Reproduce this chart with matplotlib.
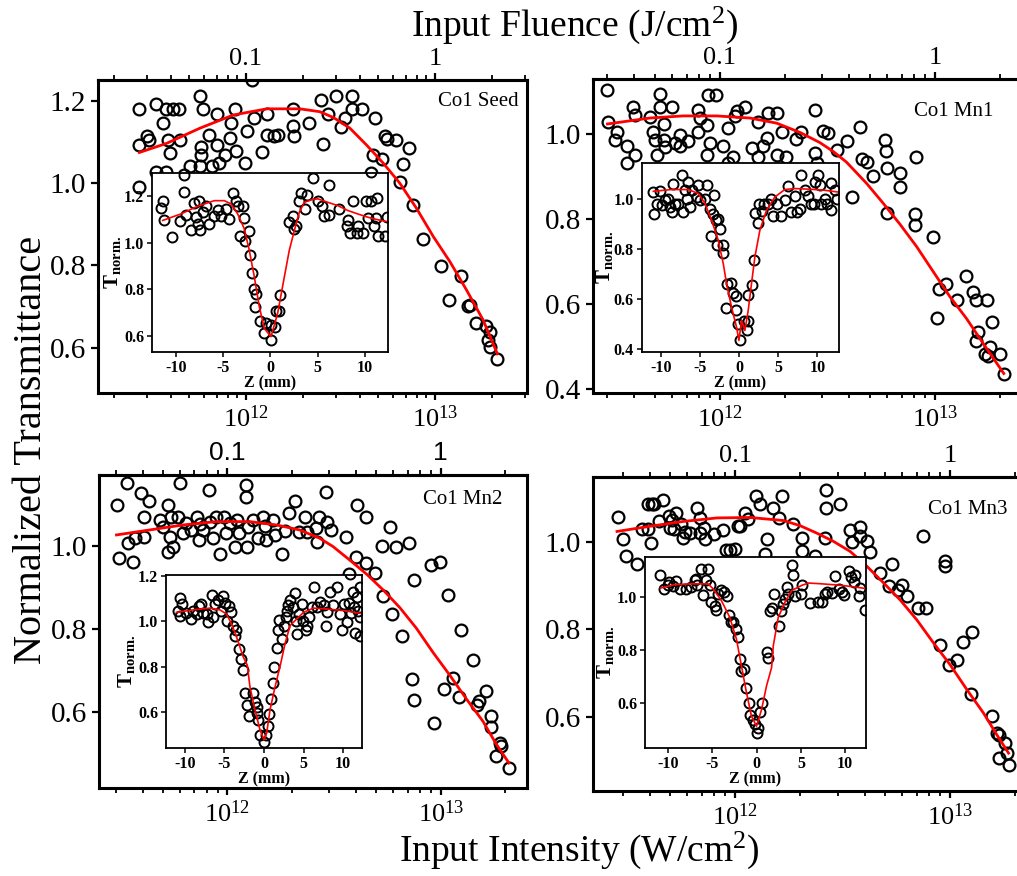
import numpy as np
import matplotlib
matplotlib.use('Agg')
import matplotlib.pyplot as plt
from matplotlib.ticker import LogLocator, NullFormatter

plt.rcParams['font.family'] = ['Liberation Serif', 'DejaVu Serif']
plt.rcParams['mathtext.fontset'] = 'custom'
plt.rcParams['mathtext.rm'] = 'Liberation Serif'
plt.rcParams['mathtext.bf'] = 'Liberation Serif:bold'
plt.rcParams['mathtext.it'] = 'Liberation Serif:italic'
plt.rcParams['axes.unicode_minus'] = False

# ---- data: intensity in units of 1e12 W/cm^2, normalized transmittance ----
seed_I = [0.273, 0.273, 0.273, 0.298, 0.307, 0.333, 0.333, 0.365, 0.380, 0.380, 0.388, 0.399,
          0.409, 0.444, 0.448, 0.472, 0.506, 0.571, 0.575, 0.582, 0.582, 0.594, 0.640, 0.658,
          0.700, 0.705, 0.720, 0.774, 0.823, 0.833, 0.875, 0.885, 0.99, 1.016, 1.072, 1.10,
          1.21, 1.29, 1.29, 1.40, 1.48, 1.78, 1.78, 1.80, 2.16, 2.51, 2.57, 2.73, 2.99, 3.17,
          3.34, 3.62, 3.62, 4.09, 4.57, 4.72, 4.82, 5.22, 5.44, 5.60, 6.22, 6.53, 6.80, 7.31,
          7.68, 8.67, 10.8, 11.9, 13.7, 15.0, 15.4, 16.5, 18.6, 19.1, 19.5, 19.5, 21.4]
seed_T = [1.179, 1.092, 0.989, 1.113, 1.104, 1.191, 1.026, 1.145, 1.179, 1.026, 1.104, 1.072,
          1.179, 1.179, 1.104, 1.019, 1.040, 1.212, 1.040, 1.088, 1.068, 1.179, 1.117, 1.040,
          1.092, 1.167, 1.048, 1.068, 1.108, 1.145, 1.179, 1.078, 1.048, 1.126, 1.250, 1.157,
          1.074, 1.167, 1.117, 1.114, 1.117, 1.179, 1.138, 1.114, 1.145, 1.202, 1.094, 1.167,
          1.210, 1.137, 1.157, 1.210, 1.179, 1.179, 1.023, 1.068, 1.157, 1.057, 1.114, 1.106,
          1.104, 1.003, 1.045, 1.086, 0.946, 0.865, 0.798, 0.717, 0.774, 0.701, 0.704, 0.659,
          0.652, 0.618, 0.639, 0.602, 0.572]
seed_fit_I = [0.273, 0.380, 0.571, 0.857, 1.29, 1.93, 2.46, 2.90, 3.55, 4.35, 5.33, 6.53,
              8.0, 9.8, 12.0, 14.7, 18.0, 21.4]
seed_fit_T = [1.074, 1.096, 1.133, 1.165, 1.180, 1.180, 1.173, 1.159, 1.133, 1.092, 1.048,
              0.999, 0.938, 0.870, 0.809, 0.740, 0.667, 0.585]

mn1_I = [0.300, 0.303, 0.325, 0.333, 0.368, 0.368, 0.395, 0.402, 0.402, 0.472, 0.490, 0.499,
         0.508, 0.526, 0.526, 0.551, 0.551, 0.555, 0.596, 0.618, 0.652, 0.652, 0.713, 0.793,
         0.807, 0.793, 0.867, 0.867, 0.883, 0.898, 0.958, 1.029, 1.093, 1.093, 1.153, 1.174,
         1.196, 1.307, 1.404, 1.508, 1.508, 1.59, 1.648, 1.678, 1.835, 1.835, 1.935, 2.04,
         2.27, 2.39, 2.77, 2.77, 2.82, 3.03, 3.19, 3.49, 3.88, 4.10, 4.48, 4.56, 4.81, 5.13,
         5.85, 5.92, 5.96, 5.96, 6.87, 6.87, 8.07, 8.07, 8.16, 9.75, 10.2, 10.4, 11.3, 12.6,
         14.0, 15.1, 15.6, 15.9, 15.6, 17.4, 18.4, 17.1, 17.7, 18.0, 20.1, 20.9]
mn1_T = [1.105, 1.028, 0.987, 1.004, 0.971, 0.933, 1.064, 1.046, 0.951, 1.040, 1.004, 0.987,
         0.951, 1.094, 1.065, 1.024, 0.987, 0.969, 1.065, 0.979, 0.998, 0.971, 0.983, 1.057,
         1.038, 1.004, 1.022, 0.951, 1.093, 0.980, 1.093, 0.971, 1.014, 0.932, 0.947, 1.042,
         1.054, 1.065, 0.967, 1.028, 0.947, 0.971, 0.992, 1.051, 1.051, 0.951, 1.004, 0.947,
         0.988, 1.006, 1.057, 0.955, 0.932, 1.008, 1.002, 0.963, 0.983, 0.853, 1.018, 0.941,
         0.935, 0.902, 0.987, 0.961, 0.920, 0.815, 0.908, 0.876, 0.813, 0.786, 0.946, 0.758,
         0.566, 0.636, 0.648, 0.610, 0.665, 0.628, 0.610, 0.534, 0.513, 0.610, 0.558, 0.481,
         0.477, 0.499, 0.481, 0.434]
mn1_fit_I = [0.300, 0.472, 0.675, 0.965, 1.379, 1.835, 2.36, 2.92, 3.37, 3.88, 4.81, 5.75,
             6.87, 8.22, 9.82, 11.7, 14.0, 16.8, 20.9]
mn1_fit_T = [1.024, 1.038, 1.043, 1.043, 1.038, 1.026, 1.004, 0.980, 0.959, 0.934, 0.884,
             0.837, 0.788, 0.735, 0.676, 0.618, 0.566, 0.506, 0.436]

mn2_I = [0.302, 0.310, 0.340, 0.342, 0.359, 0.368, 0.395, 0.405, 0.407, 0.428, 0.482, 0.499,
         0.527, 0.527, 0.537, 0.546, 0.556, 0.587, 0.602, 0.620, 0.642, 0.678, 0.721, 0.737,
         0.742, 0.769, 0.821, 0.826, 0.857, 0.888, 0.921, 0.961, 0.989, 1.025, 1.082, 1.11,
         1.134, 1.227, 1.227, 1.236, 1.25, 1.319, 1.393, 1.469, 1.496, 1.523, 1.637, 1.667,
         1.81, 1.857, 1.945, 2.07, 2.17, 2.30, 2.35, 2.59, 2.63, 2.69, 2.91, 2.94, 3.05, 3.61,
         3.72, 4.02, 4.05, 4.45, 4.45, 4.91, 5.33, 5.37, 5.81, 5.94, 6.20, 6.61, 7.11, 7.31,
         7.50, 7.47, 8.97, 9.27, 9.96, 10.4, 10.8, 11.4, 12.2, 12.5, 14.2, 14.8, 15.1, 16.4,
         17.3, 17.3, 18.2, 18.9, 19.1, 20.9]
mn2_T = [1.098, 0.970, 1.150, 1.006, 0.960, 1.018, 1.126, 1.022, 1.069, 1.108, 1.062, 1.045,
         1.098, 0.986, 1.022, 1.070, 0.996, 1.070, 1.150, 1.030, 1.054, 1.038, 1.070, 1.013,
         1.053, 1.038, 1.134, 1.058, 1.018, 1.070, 0.980, 1.070, 1.030, 1.054, 0.996, 1.062,
         1.030, 1.146, 1.117, 0.998, 1.046, 1.062, 1.018, 1.070, 1.048, 1.014, 1.062, 1.026,
         0.980, 1.036, 1.078, 1.108, 1.034, 1.070, 1.034, 1.042, 1.010, 1.070, 1.128, 1.056,
         1.038, 1.022, 0.933, 0.974, 1.098, 1.069, 0.958, 0.934, 1.000, 0.880, 1.045, 0.836,
         0.996, 0.784, 1.006, 0.680, 0.917, 0.630, 0.954, 0.573, 0.962, 0.656, 0.882, 0.682,
         0.637, 0.798, 0.726, 0.618, 0.626, 0.650, 0.590, 0.565, 0.494, 0.526, 0.518, 0.466]
mn2_fit_I = [0.302, 0.432, 0.620, 0.888, 1.273, 1.698, 2.18, 2.71, 3.13, 3.74, 4.49, 5.37,
             6.42, 7.69, 9.2, 11.0, 13.2, 15.8, 18.2, 20.9]
mn2_fit_T = [1.026, 1.038, 1.050, 1.058, 1.058, 1.050, 1.038, 1.018, 0.998, 0.966, 0.932,
             0.894, 0.852, 0.802, 0.744, 0.690, 0.632, 0.578, 0.524, 0.478]

mn3_I = [0.284, 0.300, 0.311, 0.349, 0.368, 0.395, 0.395, 0.410, 0.405, 0.420, 0.461, 0.440,
         0.490, 0.499, 0.508, 0.532, 0.517, 0.559, 0.571, 0.585, 0.618, 0.664, 0.683, 0.683,
         0.713, 0.725, 0.793, 0.877, 0.908, 0.948, 1.0, 1.036, 1.055, 1.113, 1.153, 1.252,
         1.307, 1.379, 1.413, 1.507, 1.591, 1.648, 1.855, 2.04, 2.04, 2.36, 2.56, 2.62, 2.65,
         2.65, 3.08, 3.43, 3.49, 3.79, 3.79, 4.10, 4.25, 4.73, 5.22, 5.35, 5.75, 5.96, 6.33,
         7.12, 7.51, 7.73, 8.98, 9.48, 9.48, 9.93, 10.8, 11.5, 12.5, 12.6, 15.6, 16.5, 16.8,
         16.9, 18.0, 18.4, 18.7]
mn3_T = [1.058, 1.008, 0.969, 0.951, 1.031, 1.031, 1.087, 1.087, 0.998, 1.087, 1.098, 1.048,
         1.060, 1.033, 1.052, 1.067, 1.031, 1.043, 1.010, 1.023, 1.021, 1.079, 1.056, 1.021,
         1.033, 1.008, 1.018, 1.029, 0.983, 0.983, 0.985, 1.037, 1.038, 1.067, 1.054, 1.107,
         1.087, 0.974, 1.008, 1.079, 1.056, 1.107, 1.041, 1.010, 0.979, 0.969, 0.951, 1.010,
         1.120, 1.079, 1.087, 1.029, 1.000, 1.035, 1.014, 1.002, 0.977, 0.930, 0.899, 0.951,
         0.890, 0.903, 0.876, 0.849, 1.014, 0.849, 0.764, 0.956, 0.945, 0.719, 0.730, 0.772,
         0.652, 0.795, 0.602, 0.562, 0.558, 0.504, 0.539, 0.516, 0.489]
mn3_fit_I = [0.282, 0.403, 0.575, 0.822, 1.174, 1.678, 2.01, 2.40, 2.87, 3.43, 4.10, 4.90,
             5.85, 7.0, 8.37, 10.0, 12.0, 14.3, 16.5, 18.7]
mn3_fit_T = [1.025, 1.037, 1.048, 1.056, 1.057, 1.050, 1.038, 1.021, 1.002, 0.979, 0.945,
             0.907, 0.868, 0.822, 0.769, 0.719, 0.661, 0.608, 0.558, 0.516]

# ---- inset z-scans: Z (mm), T_norm ----
seed_Z = [-11.37, -11.55, -11.2, -10.39, -9.54, -9.08, -9.08, -8.91, -8.38, -8.10, -7.85, -7.5,
          -7.68, -7.39, -7.15, -6.80, -6.51, -5.99, -5.56, -5.21, -4.68, -4.33, -3.98, -3.63,
          -3.45, -2.92, -2.75, -3.17, -2.68, -2.29, -2.11, -1.94, -1.76, -1.51, -1.58, -1.06,
          -0.70, -0.46, 0.07, 0.53, 0.07, 0.60, 0.88, 1.06, 2.0, 2.36, 2.54, 2.71, 2.99, 3.24,
          3.87, 3.70, 4.47, 5.07, 5.42, 5.70, 6.16, 6.23, 7.29, 8.17, 8.1, 8.45, 8.70, 9.23,
          9.15, 9.75, 10.1, 10.35, 10.63, 10.92, 11.16, 11.27, 10.63, 11.41, 12.1, 12.3]
seed_zT = [1.181, 1.149, 1.099, 1.024, 1.093, 1.217, 1.293, 1.12, 1.053, 1.171, 1.11, 1.181,
           1.079, 1.053, 1.131, 1.16, 1.079, 1.117, 1.139, 1.117, 1.146, 1.10, 1.214, 1.181,
           1.16, 1.16, 1.107, 1.029, 1.007, 1.049, 0.946, 0.870, 0.80, 0.779, 0.724, 0.664,
           0.61, 0.656, 0.646, 0.639, 0.581, 0.707, 0.707, 0.777, 1.089, 1.113, 1.06, 1.07,
           1.181, 1.213, 1.207, 1.143, 1.279, 1.181, 1.157, 1.117, 1.12, 1.25, 1.146, 1.096,
           1.071, 1.043, 1.181, 1.07, 1.043, 1.043, 1.181, 1.106, 1.181, 1.074, 1.106, 1.193,
           1.303, 1.029, 1.029, 1.11]
seed_fit_Z = [-11.37, -9.44, -7.68, -5.92, -4.86, -4.15, -3.45, -2.75, -2.22, -1.69, -1.16,
              -0.63, 0.07, 0.77, 1.48, 2.0, 2.54, 3.06, 3.59, 4.30, 5.0, 6.06, 7.11, 8.17,
              9.23, 10.28, 11.34, 12.32]
seed_fit_zT = [1.096, 1.124, 1.157, 1.181, 1.181, 1.167, 1.124, 1.06, 0.967, 0.853, 0.724,
               0.631, 0.596, 0.696, 0.853, 0.967, 1.053, 1.131, 1.174, 1.184, 1.189, 1.174,
               1.16, 1.139, 1.124, 1.11, 1.099, 1.091]

mn1_Z = [-10.98, -10.55, -10.85, -10.13, -9.91, -9.49, -9.06, -8.85, -8.64, -8.43, -8.21,
         -7.79, -7.36, -7.15, -6.94, -6.72, -6.51, -6.30, -6.09, -5.45, -5.32, -5.02, -4.38,
         -4.17, -3.74, -3.19, -3.32, -3.02, -2.68, -2.47, -3.62, -2.89, -2.04, -2.13, -1.62,
         -1.06, -0.77, -0.47, -1.74, -0.47, -0.13, 0.09, 0.64, 0.94, 1.15, 1.15, 1.66, 1.91,
         2.0, 2.34, 2.55, 2.94, 3.19, 3.62, 4.04, 4.34, 4.89, 5.40, 5.83, 6.26, 6.68, 7.11,
         7.45, 7.74, 7.87, 8.38, 8.81, 9.15, 9.57, 9.66, 10.09, 10.30, 10.43, 10.94, 11.28,
         11.70, 11.79, 12.21, 12.55]
mn1_zT = [1.029, 0.983, 0.943, 1.033, 0.976, 0.996, 1.003, 0.969, 0.949, 1.063, 0.983, 0.983,
          1.096, 0.949, 1.036, 1.003, 1.069, 0.969, 1.036, 1.009, 1.056, 0.996, 1.003, 1.056,
          0.963, 1.016, 0.943, 0.916, 0.923, 0.883, 0.852, 0.816, 0.816, 0.787, 0.663, 0.665,
          0.625, 0.612, 0.567, 0.556, 0.503, 0.439, 0.513, 0.476, 0.513, 0.616, 0.656, 0.759,
          0.945, 0.907, 0.983, 0.953, 0.983, 0.983, 1.003, 0.932, 0.983, 0.932, 0.996, 1.052,
          0.949, 1.012, 0.949, 0.963, 1.096, 1.036, 1.012, 0.983, 0.983, 1.069, 1.096, 1.056,
          0.983, 1.003, 0.983, 0.956, 1.065, 1.036, 1.003]
mn1_fit_Z = [-10.98, -8.64, -6.51, -5.23, -4.38, -3.53, -2.68, -2.04, -1.62, -0.98, -0.34,
             -0.04, 0.30, 0.72, 1.15, 1.57, 2.0, 2.64, 3.49, 4.55, 5.83, 7.11, 9.23, 10.94,
             12.64]
mn1_fit_zT = [1.032, 1.039, 1.039, 1.023, 0.983, 0.916, 0.836, 0.743, 0.663, 0.569, 0.489,
              0.436, 0.516, 0.476, 0.556, 0.663, 0.769, 0.876, 0.956, 1.009, 1.039, 1.043,
              1.04, 1.036, 1.029]

mn2_Z = [-10.87, -10.57, -10.66, -10.32, -9.89, -9.18, -8.96, -8.54, -8.20, -8.03, -7.70,
         -7.27, -7.06, -6.64, -6.43, -6.22, -5.79, -5.50, -5.16, -4.95, -4.74, -4.40, -4.19,
         -3.89, -3.68, -3.55, -3.13, -2.96, -2.62, -2.41, -2.11, -1.86, -1.44, -1.14, -0.85,
         -0.93, -0.72, -0.51, 0.0, 0.25, 0.55, 0.68, 0.85, 1.18, 1.31, 1.61, 1.82, 1.95, 2.24,
         2.54, 2.79, 2.88, 3.09, 3.30, 3.64, 3.93, 4.06, 4.23, 4.48, 4.78, 4.99, 5.33, 5.41,
         5.75, 6.05, 6.38, 6.68, 7.10, 7.53, 7.86, 7.95, 8.37, 8.71, 9.22, 9.56, 9.85, 10.06,
         10.49, 10.70, 10.99, 11.25, 11.33, 11.54, 11.75, 11.84, 12.09, 12.09, 12.18, 10.82]
mn2_zT = [1.047, 1.102, 1.025, 1.076, 1.035, 1.010, 1.047, 1.032, 1.069, 1.076, 1.035, 1.032,
          0.996, 1.117, 1.020, 1.076, 1.093, 1.047, 1.112, 1.079, 1.003, 1.069, 1.039, 0.981,
          0.937, 0.962, 0.879, 0.835, 0.784, 0.685, 0.631, 0.580, 0.682, 0.645, 0.623, 0.594,
          0.565, 0.499, 0.466, 0.499, 0.536, 0.591, 0.655, 0.726, 0.799, 0.883, 0.962, 1.006,
          0.920, 0.981, 1.018, 1.047, 1.073, 1.093, 1.064, 1.123, 1.003, 0.945, 1.032, 1.076,
          1.003, 0.962, 0.981, 1.018, 1.061, 1.152, 1.061, 1.083, 1.073, 0.981, 1.039, 1.131,
          1.073, 1.152, 1.032, 0.962, 1.076, 0.996, 1.079, 1.035, 1.127, 1.061, 0.947, 1.105,
          1.047, 1.018, 1.149, 0.937, 1.207]
mn2_fit_Z = [-11.08, -8.96, -6.85, -5.58, -4.74, -4.10, -3.47, -2.62, -2.11, -1.78, -1.14,
             -0.51, 0.0, 0.34, 0.76, 1.40, 2.11, 2.66, 3.30, 4.14, 4.99, 6.26, 7.95, 10.06,
             12.18]
mn2_fit_zT = [1.039, 1.050, 1.058, 1.050, 1.032, 0.988, 0.930, 0.842, 0.806, 0.711, 0.609,
              0.521, 0.477, 0.507, 0.609, 0.711, 0.813, 0.901, 0.981, 1.010, 1.039, 1.058,
              1.054, 1.047, 1.035]

mn3_Z = [-10.83, -10.45, -10.0, -9.81, -9.43, -9.06, -8.68, -7.92, -7.36, -6.98, -6.79,
         -6.68, -6.23, -6.04, -5.66, -5.47, -5.28, -5.09, -4.64, -4.53, -4.34, -3.96, -3.66,
         -3.28, -3.13, -2.91, -2.64, -2.26, -2.08, -1.89, -1.70, -1.40, -1.13, -0.87, -0.75,
         -0.38, -0.19, 0.0, 0.19, 0.38, 0.64, 1.21, 1.32, 1.51, 1.70, 2.0, 2.53, 2.75, 3.02,
         3.21, 3.40, 3.58, 3.96, 4.15, 4.34, 5.02, 5.09, 6.04, 6.98, 7.36, 7.74, 7.92, 8.49,
         8.87, 9.25, 9.62, 9.81, 10.38, 10.68, 10.94, 11.13, 11.51, 11.70, 12.26]
mn3_zT = [1.085, 1.029, 1.044, 1.057, 1.042, 1.059, 1.029, 1.029, 1.038, 1.063, 1.069, 1.047,
          1.107, 1.009, 1.063, 1.107, 1.047, 0.981, 0.968, 0.950, 1.013, 1.025, 1.019, 1.006,
          0.931, 0.905, 0.905, 0.880, 0.849, 0.767, 0.722, 0.731, 0.656, 0.600, 0.555, 0.539,
          0.521, 0.489, 0.508, 0.567, 0.600, 0.794, 0.769, 0.946, 0.958, 1.013, 0.893, 0.946,
          0.975, 0.994, 1.038, 1.013, 1.12, 1.082, 1.006, 1.013, 1.047, 0.979, 0.981, 0.981,
          1.013, 1.021, 1.016, 1.079, 1.032, 1.019, 1.009, 1.097, 1.076, 1.057, 1.085, 1.004,
          1.034, 0.953]
mn3_fit_Z = [-10.83, -9.25, -7.36, -5.47, -4.91, -3.96, -3.02, -2.26, -1.70, -1.13, -0.57,
             0.0, 0.57, 1.13, 1.70, 1.89, 2.45, 3.21, 3.96, 5.09, 5.85, 7.36, 9.62, 11.13, 12.34]
mn3_fit_zT = [1.034, 1.047, 1.050, 1.050, 1.032, 0.987, 0.924, 0.842, 0.741, 0.640, 0.552,
              0.514, 0.577, 0.666, 0.735, 0.817, 0.924, 0.981, 1.025, 1.044, 1.053, 1.050,
              1.044, 1.038, 1.032]

labels = ['Co1 Seed', 'Co1 Mn1', 'Co1 Mn2', 'Co1 Mn3']

W, H = 1017, 876
fig = plt.figure(figsize=(W / 100, H / 100), dpi=100)


def box(l, t, r, b):
    return [l / W, 1 - b / H, (r - l) / W, (b - t) / H]


def main_panel(rect, xlim, ylim, yticks, I, T, fI, fT, label, lab_xy, top_font):
    ax = fig.add_axes(rect)
    ax.set_xscale('log')
    ax.plot(np.array(I) * 1e12, T, 'o', mfc='none', mec='black', mew=1.6, ms=8.5)
    ax.plot(np.array(fI) * 1e12, fT, color='red', lw=2.0)
    ax.set_xlim(xlim)
    ax.set_ylim(ylim)
    ax.set_yticks(yticks)
    ax.set_yticklabels(['%.1f' % v for v in yticks], fontsize=21)
    ax.set_xticks([1e12, 1e13])
    ax.set_xticklabels([r'$\mathregular{10^{12}}$', r'$\mathregular{10^{13}}$'], fontsize=19)
    ax.xaxis.set_minor_locator(LogLocator(base=10, subs=np.arange(2, 10), numticks=20))
    ax.xaxis.set_minor_formatter(NullFormatter())
    ax.tick_params(which='major', direction='out', length=5, width=1.6, top=False, right=False)
    ax.tick_params(which='minor', direction='out', length=3.5, width=1.3, top=False, right=False)
    ax.tick_params(axis='x', pad=4)
    for s in ax.spines.values():
        s.set_linewidth(2.2)

    sec = ax.secondary_xaxis('top', functions=(lambda x: x * 1e-13, lambda x: x * 1e13))
    sec.set_xticks([0.1, 1])
    sec.set_xticklabels(['0.1', '1'], fontsize=19, family=top_font)
    sec.xaxis.set_minor_locator(LogLocator(base=10, subs=np.arange(2, 10), numticks=20))
    sec.xaxis.set_minor_formatter(NullFormatter())
    sec.tick_params(which='major', direction='out', length=5, width=1.6, pad=2)
    sec.tick_params(which='minor', direction='out', length=3.5, width=1.3)
    sec.spines['top'].set_linewidth(2.2)

    fig.text(lab_xy[0] / W, 1 - lab_xy[1] / H, label, ha='right', va='center', fontsize=15)
    return ax


def inset(rect, xlim, ylim, yticks, Z, T, fZ, fT, ypad):
    ax = fig.add_axes(rect)
    ax.plot(Z, T, 'o', mfc='none', mec='black', mew=1.4, ms=7.2)
    ax.plot(fZ, fT, color='red', lw=1.2)
    ax.set_xlim(xlim)
    ax.set_ylim(ylim)
    ax.set_xticks([-10, -5, 0, 5, 10])
    ax.set_xticklabels(['-10', '-5', '0', '5', '10'], fontsize=11.5, fontweight='bold')
    ax.set_yticks(yticks)
    ax.set_yticklabels(['%.1f' % v for v in yticks], fontsize=11.5, fontweight='bold')
    ax.tick_params(direction='out', length=3.5, width=1.1, pad=2)
    for s in ax.spines.values():
        s.set_linewidth(1.3)
    ax.set_xlabel('Z (mm)', fontsize=11.5, fontweight='bold', labelpad=0)
    ax.set_ylabel(r'$\mathbf{T_{norm.}}$', fontsize=15, labelpad=ypad)
    return ax


main_panel(box(98, 80, 527, 393), (1.65e11, 3.07e13), (0.49, 1.25), [0.6, 0.8, 1.0, 1.2],
           seed_I, seed_T, seed_fit_I, seed_fit_T, labels[0], (519, 101), 'Liberation Serif')
main_panel(box(593, 79, 1040, 393), (2.57e11, 3.08e13), (0.39, 1.13), [0.4, 0.6, 0.8, 1.0],
           mn1_I, mn1_T, mn1_fit_I, mn1_fit_T, labels[1], (993, 112), 'Liberation Serif')
main_panel(box(99, 475, 527, 788), (2.5e11, 2.54e13), (0.418, 1.17), [0.6, 0.8, 1.0],
           mn2_I, mn2_T, mn2_fit_I, mn2_fit_T, labels[2], (502, 500), 'Liberation Sans')
main_panel(box(593, 477, 1040, 791), (2.18e11, 2.62e13), (0.429, 1.15), [0.6, 0.8, 1.0],
           mn3_I, mn3_T, mn3_fit_I, mn3_fit_T, labels[3], (1007, 509), 'Liberation Serif')

inset(box(152, 173, 388, 352), (-12.5, 12.43), (0.53, 1.30), [0.6, 0.8, 1.0, 1.2],
      seed_Z, seed_zT, seed_fit_Z, seed_fit_zT, 1)
inset(box(641.5, 163, 838.5, 352), (-12.5, 12.7), (0.39, 1.145), [0.4, 0.6, 0.8, 1.0],
      mn1_Z, mn1_zT, mn1_fit_Z, mn1_fit_zT, -1)
inset(box(166, 575, 362, 748), (-12.4, 12.4), (0.441, 1.204), [0.6, 0.8, 1.0, 1.2],
      mn2_Z, mn2_zT, mn2_fit_Z, mn2_fit_zT, 1)
inset(box(645, 557, 866, 748), (-12.57, 12.34), (0.432, 1.151), [0.6, 0.8, 1.0],
      mn3_Z, mn3_zT, mn3_fit_Z, mn3_fit_zT, 1)

fig.text(579 / W, 1 - 850 / H, r'Input Intensity (W/cm$^2$)', ha='center', va='center', fontsize=27)
fig.text(575 / W, 1 - 25 / H, r'Input Fluence (J/cm$^2$)', ha='center', va='center', fontsize=27)
fig.text(32 / W, 1 - 450 / H, 'Normalized Transmittance', ha='center', va='center',
         rotation=90, fontsize=29)

fig.savefig('out.png', dpi=100)
